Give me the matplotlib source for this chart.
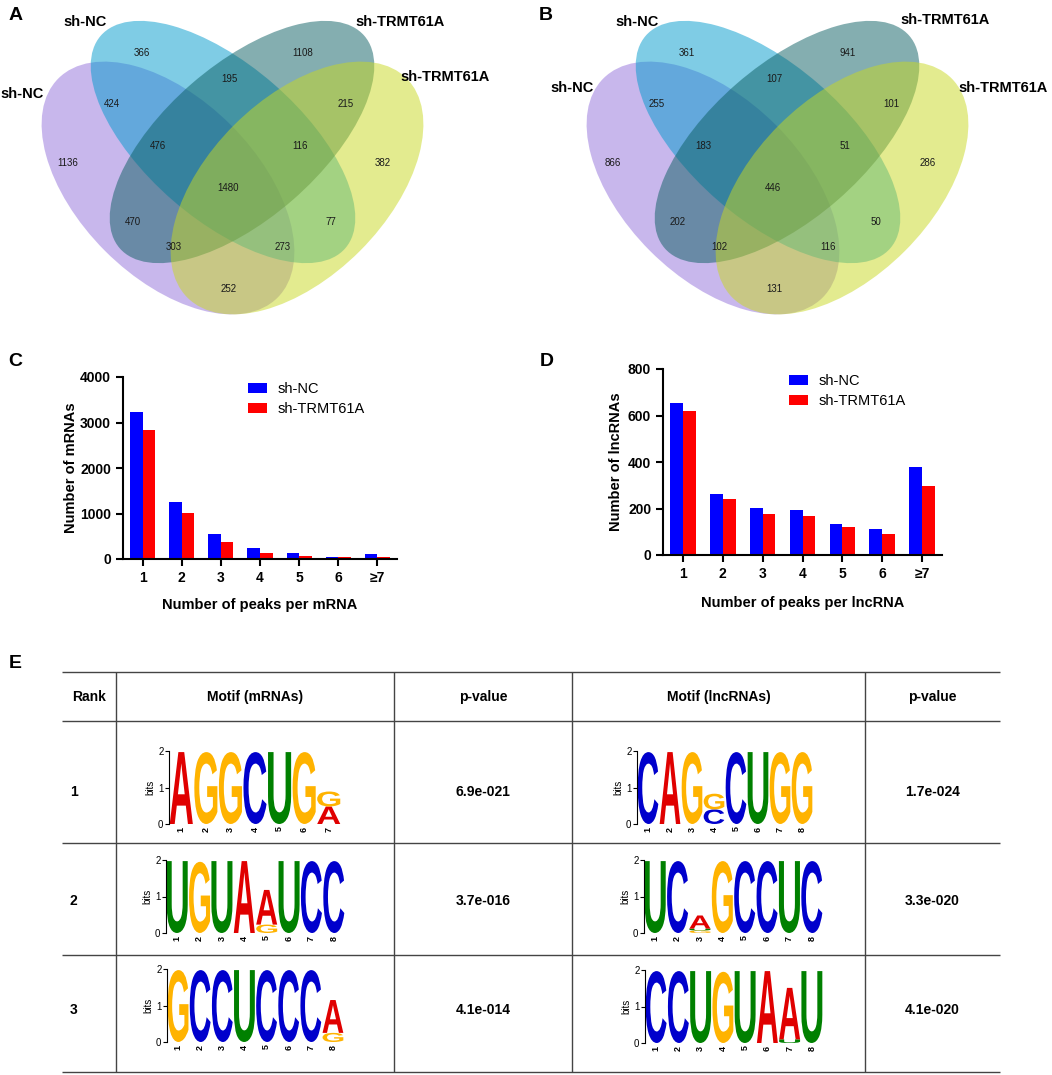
import numpy as np
import matplotlib
matplotlib.use("Agg")
import matplotlib.pyplot as plt
from matplotlib.patches import Ellipse, PathPatch
from matplotlib.textpath import TextPath
from matplotlib.font_manager import FontProperties
from matplotlib.transforms import Affine2D

W, H = 1052, 1075
plt.rcParams["font.family"] = ["Liberation Sans", "DejaVu Sans"]

# ─── Dados ───────────────────────────────────────────────────────────────────
# regiões do Venn, mesma ordem das posições em REGION_XY
venn_a_counts = [366, 1108, 195, 424, 215, 476, 116, 1136, 382, 1480, 470, 77, 303, 273, 252]
venn_b_counts = [361, 941, 107, 255, 101, 183, 51, 866, 286, 446, 202, 50, 102, 116, 131]
venn_names = ["sh-NC", "sh-NC", "sh-TRMT61A", "sh-TRMT61A"]

peak_bins = ["1", "2", "3", "4", "5", "6", "≥7"]
mrna_nc = [3230, 1245, 540, 235, 125, 50, 100]
mrna_kd = [2830, 1015, 380, 140, 70, 35, 50]
lnc_nc = [655, 261, 204, 194, 133, 112, 378]
lnc_kd = [618, 239, 175, 168, 119, 90, 297]

ranks = ["1", "2", "3"]
pval_mrna = ["6.9e-021", "3.7e-016", "4.1e-014"]
pval_lnc = ["1.7e-024", "3.3e-020", "4.1e-020"]

# cada posição: lista (letra, bits) de baixo para cima
motifs_mrna = [
    [[("A", 1.97)], [("G", 1.97)], [("G", 1.97)], [("C", 1.97)], [("U", 1.97)],
     [("G", 1.97)], [("A", 0.48), ("G", 0.41)]],
    [[("U", 1.97)], [("G", 1.95)], [("U", 1.97)], [("A", 1.97)], [("G", 0.23), ("A", 0.95)],
     [("U", 1.97)], [("C", 1.97)], [("C", 1.97)]],
    [[("G", 1.97)], [("C", 1.97)], [("C", 1.97)], [("U", 1.97)], [("C", 1.97)],
     [("C", 1.97)], [("C", 1.97)], [("G", 0.25), ("A", 0.90)]],
]
motifs_lnc = [
    [[("C", 1.97)], [("A", 1.97)], [("G", 1.97)], [("C", 0.40), ("G", 0.43)], [("C", 1.97)],
     [("U", 1.97)], [("G", 1.97)], [("G", 1.97)]],
    [[("U", 1.97)], [("C", 1.97)], [("G", 0.07), ("U", 0.05), ("A", 0.36)], [("G", 1.97)],
     [("C", 1.97)], [("C", 1.97)], [("U", 1.97)], [("C", 1.97)]],
    [[("C", 1.97)], [("C", 1.97)], [("U", 1.97)], [("G", 1.95)], [("U", 1.97)],
     [("A", 1.97)], [("U", 0.10), ("A", 1.41)], [("U", 1.97)]],
]

# ─── Layout ──────────────────────────────────────────────────────────────────
fig = plt.figure(figsize=(W / 100, H / 100), dpi=100)


def ax_px(x0, y0, w, h):
    return fig.add_axes([x0 / W, 1 - (y0 + h) / H, w / W, h / H])


over = ax_px(0, 0, W, H)
over.set_xlim(0, W)
over.set_ylim(H, 0)
over.axis("off")

# ─── Venn (A, B) ─────────────────────────────────────────────────────────────
# elipses em px do painel: cx, cy, semi-eixo maior, menor, ângulo visual (graus, descendo), cor
VENN_SETS = [
    (168, 188, 155, 89, 45, "#9370DB"),
    (223, 142, 162, 77, 41, "#009ACD"),
    (242, 142, 162, 77, -41, "#0B5E62"),
    (297, 188, 155, 89, -45, "#C8D820"),
]
REGION_XY = [(142, 53), (303, 53), (229, 79), (112, 104), (346, 104), (158, 146),
             (300, 146), (68, 163), (383, 163), (228, 188), (133, 222), (331, 222),
             (174, 247), (283, 247), (229, 289)]


def venn(x0, dx, counts, label_xy, letter, letter_xy):
    ax = ax_px(x0, 0, 526, 330)
    ax.set_xlim(0, 526)
    ax.set_ylim(330, 0)
    ax.axis("off")
    for cx, cy, a, b, ang, col in VENN_SETS:
        # eixo y invertido: ângulo em dados = ângulo visual descendente
        ax.add_patch(Ellipse((cx + dx, cy), 2 * a, 2 * b, angle=ang,
                             facecolor=col, alpha=0.5, edgecolor="none"))
    for (px, py), n in zip(REGION_XY, counts):
        ax.text(px + dx, py, str(n), ha="center", va="center", fontsize=7, color="#1a1a1a")
    for name, (px, py) in zip(venn_names, label_xy):
        ax.text(px, py, name, ha="center", va="center", fontsize=10.5, fontweight="bold")
    ax.text(letter_xy[0], letter_xy[1], letter, ha="center", va="center",
            fontsize=14, fontweight="bold")


venn(0, 0, venn_a_counts, [(85, 22), (22, 94), (400, 22), (445, 77)], "A", (16, 16))
venn(526, 19, venn_b_counts, [(111, 22), (46, 88), (419, 20), (477, 88)], "B", (20, 16))

# ─── Barras (C, D) ───────────────────────────────────────────────────────────


def barras(rect, nc, kd, ymax, step, ylabel, xlabel, ylab_x, xlab_y, leg_px):
    x0, y0, w, h = rect
    ax = ax_px(x0, y0, w, h)
    x = np.arange(1, len(peak_bins) + 1)
    bw = 0.32
    ax.bar(x - bw / 2, nc, bw, color="#0000FF", label="sh-NC")
    ax.bar(x + bw / 2, kd, bw, color="#FF0000", label="sh-TRMT61A")
    ax.set_xlim(0.5, 7.5)
    ax.set_ylim(0, ymax)
    ax.set_yticks(np.arange(0, ymax + 1, step))
    ax.set_xticks(x)
    ax.set_xticklabels(peak_bins)
    for s in ("top", "right"):
        ax.spines[s].set_visible(False)
    for s in ("left", "bottom"):
        ax.spines[s].set_linewidth(1.5)
    ax.tick_params(width=1.5, length=5, labelsize=10)
    plt.setp(ax.get_xticklabels() + ax.get_yticklabels(), fontweight="bold")
    ax.set_ylabel(ylabel, fontsize=10.5, fontweight="bold")
    ax.set_xlabel(xlabel, fontsize=10.5, fontweight="bold")
    ax.yaxis.set_label_coords(ylab_x, 0.5)
    ax.xaxis.set_label_coords(0.5, xlab_y)
    ax.legend(frameon=False, fontsize=10.5, handlelength=1.3, handleheight=0.65,
              handletextpad=0.75, labelspacing=0.4, borderpad=0, borderaxespad=0,
              loc="upper left", bbox_to_anchor=(leg_px[0] / W, 1 - leg_px[1] / H),
              bbox_transform=fig.transFigure)
    return ax


barras((123, 377, 274, 182), mrna_nc, mrna_kd, 4000, 1000, "Number of mRNAs",
       "Number of peaks per mRNA", -0.166, -0.214, (248, 382))
barras((663, 369, 279, 186), lnc_nc, lnc_kd, 800, 200, "Number of lncRNAs",
       "Number of peaks per lncRNA", -0.142, -0.22, (789, 374))
over.text(15, 362, "C", ha="center", va="center", fontsize=14, fontweight="bold")
over.text(547, 362, "D", ha="center", va="center", fontsize=14, fontweight="bold")

# ─── Tabela (E) ──────────────────────────────────────────────────────────────
over.text(15, 664, "E", ha="center", va="center", fontsize=14, fontweight="bold")
ROW_Y = [672, 721, 843, 955, 1072]
COL_X = [62, 116, 394, 572, 865, 1000]
over.hlines(ROW_Y, COL_X[0], COL_X[-1], color="#444444", lw=1.0)
over.vlines(COL_X[1:-1], ROW_Y[0], ROW_Y[-1], color="#444444", lw=1.0)

headers = ["Rank", "Motif (mRNAs)", "p-value", "Motif (lncRNAs)", "p-value"]
for i, t in enumerate(headers):
    cx = (COL_X[i] + COL_X[i + 1]) / 2
    over.text(cx, 697, t, ha="center", va="center", fontsize=10, fontweight="bold")

TEXT_Y = [792, 901, 1010]
for r, pm, pl, ty in zip(ranks, pval_mrna, pval_lnc, TEXT_Y):
    over.text(70, ty, r, ha="left", va="center", fontsize=10, fontweight="bold")
    over.text((COL_X[2] + COL_X[3]) / 2, ty, pm, ha="center", va="center",
              fontsize=10, fontweight="bold")
    over.text((COL_X[4] + COL_X[5]) / 2, ty, pl, ha="center", va="center",
              fontsize=10, fontweight="bold")

# ─── Logos ───────────────────────────────────────────────────────────────────
LETTER_COL = {"A": "#E00000", "C": "#0000CC", "G": "#FFB300", "U": "#008000"}
FP = FontProperties(family="Liberation Sans", weight="bold")


def letra(ch, x, y, w, h):
    tp = TextPath((0, 0), ch, size=1, prop=FP)
    bb = tp.get_extents()
    tr = (Affine2D().translate(-bb.x0, -bb.y0)
          .scale(w / bb.width, h / bb.height).translate(x, y))
    return PathPatch(tr.transform_path(tp), facecolor=LETTER_COL[ch], edgecolor="none")


def logo(rect, motif):
    ax = ax_px(*rect)
    n = len(motif)
    ax.set_xlim(0.5, n + 0.5)
    ax.set_ylim(0, 2)
    for i, col in enumerate(motif, start=1):
        y = 0
        for ch, bits in col:
            ax.add_patch(letra(ch, i - 0.47, y, 0.94, bits))
            y += bits
        ax.text(i, -0.07, str(i), rotation=90, ha="center", va="top",
                fontsize=6.5, fontweight="bold")
    for s in ("top", "right", "bottom"):
        ax.spines[s].set_visible(False)
    ax.spines["left"].set_linewidth(0.8)
    ax.set_xticks([])
    ax.set_yticks([0, 1, 2])
    ax.tick_params(axis="y", length=3, width=0.8, pad=1, labelsize=7)
    ax.set_ylabel("bits", fontsize=7, labelpad=2)


logo((169, 751, 172, 73), motifs_mrna[0])
logo((166, 860, 179, 73), motifs_mrna[1])
logo((167, 969, 177, 73), motifs_mrna[2])
logo((637, 751, 176, 73), motifs_lnc[0])
logo((644, 860, 179, 73), motifs_lnc[1])
logo((645, 970, 178, 73), motifs_lnc[2])

fig.savefig("out.png", dpi=100)
